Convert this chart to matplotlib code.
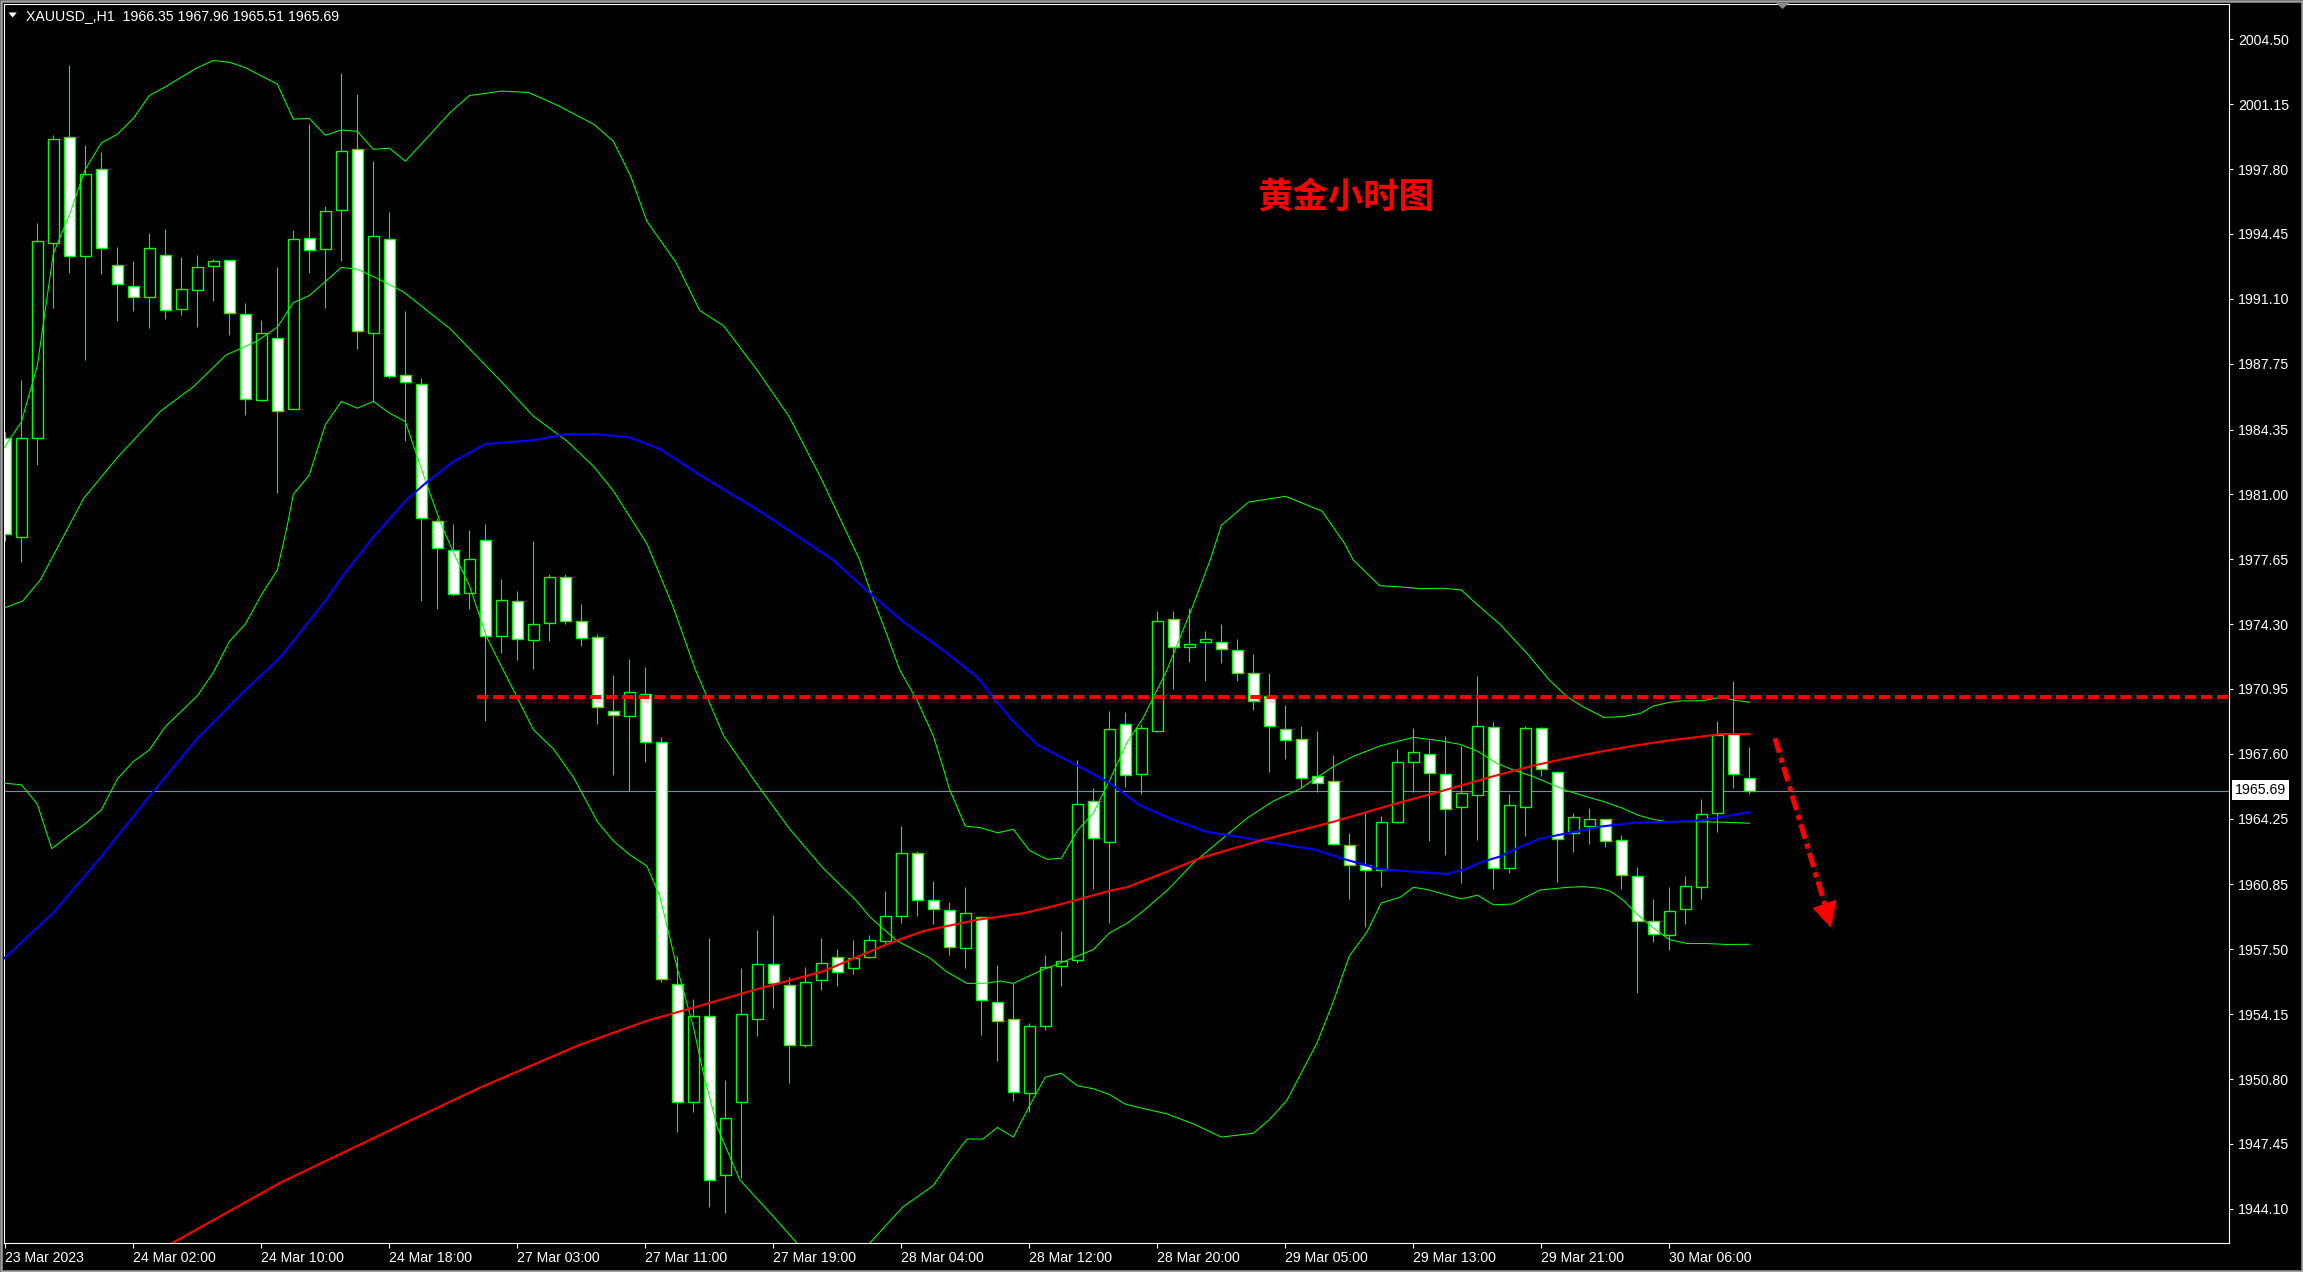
import matplotlib
matplotlib.use("Agg")
import matplotlib.pyplot as plt
import matplotlib.patheffects as pe
from matplotlib.patches import Rectangle, Polygon
import numpy as np

plt.rcParams['font.family'] = ['Liberation Sans', 'DejaVu Sans']

W, H, DPI = 2303, 1272, 100

# ---------------- data (XAUUSD H1) ----------------
opens = [1983.90, 1978.82, 1983.89, 1993.99, 1999.44, 1993.30, 1997.79, 1992.83, 1991.77, 1991.18,
         1993.35, 1990.60, 1991.58, 1992.77, 1993.12, 1990.33, 1985.85, 1989.09, 1985.40, 1994.26,
         1993.66, 1995.67, 1998.86, 1989.36, 1994.20, 1987.14, 1986.68, 1979.60, 1978.11, 1975.93,
         1978.62, 1973.70, 1975.47, 1973.47, 1974.35, 1976.73, 1974.44, 1973.64, 1969.80, 1969.54,
         1970.71, 1968.19, 1955.72, 1949.59, 1954.08, 1945.86, 1949.61, 1953.88, 1956.74, 1955.65,
         1952.58, 1955.90, 1957.11, 1956.56, 1957.11, 1957.95, 1959.20, 1962.45, 1960.06, 1959.54,
         1957.56, 1959.15, 1954.77, 1953.92, 1950.06, 1953.52, 1956.65, 1956.93, 1965.15, 1963.06,
         1969.12, 1966.54, 1968.80, 1974.55, 1973.09, 1973.36, 1973.36, 1972.95, 1971.76, 1970.58,
         1968.86, 1968.34, 1966.44, 1966.17, 1962.90, 1961.88, 1961.60, 1964.09, 1967.20, 1967.61,
         1966.58, 1964.84, 1965.46, 1969.00, 1961.69, 1964.83, 1968.91, 1966.68, 1963.49, 1963.85,
         1964.21, 1963.13, 1961.27, 1958.98, 1958.22, 1959.57, 1960.70, 1964.52, 1968.62, 1966.35]
highs = [1984.20, 1986.92, 1995.02, 1999.56, 2003.17, 1999.06, 1998.66, 1993.77, 1993.04, 1994.49,
         1994.71, 1993.26, 1993.37, 1993.15, 1993.12, 1990.87, 1990.00, 1992.72, 1994.67, 2000.11,
         1995.92, 2002.74, 2001.69, 1998.21, 1995.58, 1990.45, 1987.01, 1979.80, 1979.45, 1979.17,
         1979.46, 1976.65, 1976.02, 1978.60, 1976.88, 1976.90, 1975.33, 1973.78, 1971.66, 1972.49,
         1972.06, 1968.48, 1957.16, 1954.95, 1958.06, 1950.74, 1956.54, 1958.52, 1959.29, 1956.06,
         1956.58, 1958.11, 1957.52, 1957.97, 1958.22, 1960.52, 1963.88, 1962.60, 1961.02, 1959.95,
         1960.72, 1959.20, 1956.70, 1955.74, 1953.70, 1957.20, 1958.45, 1967.27, 1965.84, 1969.80,
         1969.76, 1969.14, 1974.98, 1974.98, 1975.12, 1973.93, 1974.30, 1973.55, 1972.77, 1971.78,
         1970.12, 1969.04, 1968.77, 1967.52, 1963.50, 1964.54, 1964.39, 1967.86, 1968.95, 1968.32,
         1968.50, 1968.00, 1971.60, 1969.25, 1965.51, 1969.04, 1968.98, 1966.70, 1964.53, 1964.78,
         1964.25, 1963.41, 1961.77, 1960.10, 1960.74, 1961.30, 1965.27, 1969.29, 1971.36, 1967.96]
lows = [1978.60, 1977.50, 1982.52, 1990.63, 1992.45, 1987.92, 1992.39, 1989.96, 1990.49, 1989.60,
        1990.05, 1990.29, 1989.64, 1990.98, 1989.24, 1985.11, 1985.80, 1981.09, 1985.40, 1992.45,
        1990.63, 1993.03, 1988.50, 1985.78, 1987.01, 1983.75, 1975.50, 1975.10, 1975.73, 1975.10,
        1969.31, 1972.81, 1972.43, 1972.00, 1973.41, 1974.30, 1973.15, 1969.14, 1966.50, 1965.70,
        1967.19, 1955.81, 1948.07, 1949.08, 1944.20, 1943.90, 1945.67, 1953.01, 1954.47, 1950.61,
        1952.45, 1955.40, 1955.61, 1956.24, 1957.04, 1957.70, 1958.86, 1959.20, 1958.79, 1957.22,
        1956.52, 1953.06, 1951.74, 1949.65, 1949.08, 1953.33, 1955.61, 1956.81, 1960.61, 1958.85,
        1965.90, 1965.51, 1968.75, 1970.97, 1972.36, 1971.38, 1972.31, 1971.35, 1969.87, 1966.67,
        1967.35, 1965.87, 1965.65, 1962.90, 1960.09, 1958.66, 1960.71, 1964.05, 1965.65, 1963.11,
        1962.35, 1960.94, 1963.17, 1960.59, 1961.42, 1963.35, 1966.47, 1960.99, 1962.54, 1962.94,
        1962.80, 1960.63, 1955.26, 1957.86, 1957.47, 1958.81, 1960.10, 1963.58, 1965.85, 1965.51]
closes = [1978.95, 1983.89, 1994.08, 1999.38, 1993.30, 1997.57, 1993.71, 1991.85, 1991.18, 1993.71,
          1990.54, 1991.59, 1992.72, 1993.03, 1990.36, 1985.90, 1989.31, 1985.31, 1994.20, 1993.60,
          1995.65, 1998.75, 1989.42, 1994.33, 1987.10, 1986.79, 1979.77, 1978.22, 1975.84, 1977.65,
          1973.67, 1975.56, 1973.55, 1974.30, 1976.73, 1974.47, 1973.58, 1970.00, 1969.60, 1970.77,
          1968.19, 1955.95, 1949.59, 1954.03, 1945.56, 1948.79, 1954.15, 1956.74, 1955.74, 1952.54,
          1955.83, 1956.77, 1956.31, 1957.04, 1957.97, 1959.20, 1962.45, 1960.04, 1959.59, 1957.61,
          1959.36, 1954.88, 1953.81, 1950.11, 1953.56, 1956.58, 1956.88, 1964.99, 1963.24, 1968.90,
          1966.49, 1968.91, 1974.44, 1973.14, 1973.27, 1973.52, 1973.00, 1971.76, 1970.33, 1969.02,
          1968.31, 1966.35, 1966.10, 1962.92, 1961.85, 1961.60, 1964.09, 1967.20, 1967.68, 1966.60,
          1964.75, 1965.55, 1969.05, 1961.69, 1964.93, 1968.91, 1966.80, 1963.18, 1964.32, 1964.21,
          1963.08, 1961.32, 1958.98, 1958.27, 1959.46, 1960.77, 1964.49, 1968.57, 1966.56, 1965.69]

x_tick_idx = [0, 8, 16, 24, 32, 40, 48, 56, 64, 72, 80, 88, 96, 104]
x_tick_labels = ["23 Mar 2023", "24 Mar 02:00", "24 Mar 10:00", "24 Mar 18:00", "27 Mar 03:00",
                 "27 Mar 11:00", "27 Mar 19:00", "28 Mar 04:00", "28 Mar 12:00", "28 Mar 20:00",
                 "29 Mar 05:00", "29 Mar 13:00", "29 Mar 21:00", "30 Mar 06:00"]
y_tick_vals = [2004.50, 2001.15, 1997.80, 1994.45, 1991.10, 1987.75, 1984.35, 1981.00, 1977.65,
               1974.30, 1970.95, 1967.60, 1964.25, 1960.85, 1957.50, 1954.15, 1950.80, 1947.45, 1944.10]
y_tick_labels = ["2004.50", "2001.15", "1997.80", "1994.45", "1991.10", "1987.75", "1984.35",
                 "1981.00", "1977.65", "1974.30", "1970.95", "1967.60", "1964.25", "1960.85",
                 "1957.50", "1954.15", "1950.80", "1947.45", "1944.10"]

# Bollinger bands (at bar positions)
bb_up_x = [-0.33, 1, 2, 3, 4, 5, 6, 7, 8, 9, 10, 12, 13, 14, 15, 17, 18, 19, 20, 21, 22, 23, 24, 25, 26,
           27.8, 29, 31, 32.7, 34.5, 36.8, 38, 39.1, 40.1, 41.9, 43.4, 44.9, 47, 49, 51, 53.4, 54.15,
           55.1, 55.9, 57, 58, 58.6, 59, 60, 60.9, 62, 63, 64, 65.1, 66, 67, 68, 69, 70.1, 71.1, 72.6,
           74.25, 75.3, 76, 77.7, 80, 82.3, 83.7, 84.25, 85.9, 87.2, 88.4, 89.9, 91, 92, 93.4, 95.1,
           96.5, 97.6, 98.6, 99.9, 101.1, 102.2, 103, 103.9, 104.7, 106.1, 107.2, 108, 109]
bb_up_y = [1983.1, 1984.74, 1987.64, 1993.44, 1995.43, 1997.79, 1999.15, 1999.6, 2000.42, 2001.6,
           2002.05, 2003.04, 2003.41, 2003.32, 2003.04, 2002.19, 2000.38, 2000.42, 1999.55, 1999.82,
           1999.75, 1998.82, 1998.88, 1998.21, 1999.1, 2000.72, 2001.6, 2001.83, 2001.76, 2001.1,
           2000.1, 1999.24, 1997.4, 1995.1, 1993.0, 1990.5, 1989.7, 1987.4, 1985.0, 1981.8, 1977.6,
           1975.8, 1973.75, 1971.93, 1970.34, 1968.52, 1966.93, 1965.79, 1963.86, 1963.79, 1963.52,
           1963.7, 1962.61, 1962.15, 1962.2, 1963.63, 1964.54, 1966.2, 1968.18, 1969.43, 1971.92,
           1975.3, 1977.6, 1979.4, 1980.6, 1980.9, 1980.13, 1978.46, 1977.6, 1976.28, 1976.22,
           1976.13, 1976.15, 1976.06, 1975.3, 1974.3, 1972.79, 1971.41, 1970.55, 1970.03, 1969.48,
           1969.52, 1969.69, 1970.07, 1970.24, 1970.33, 1970.34, 1970.52, 1970.38, 1970.26]
bb_mid_x = [-0.33, 1.1, 2.2, 4.9, 7, 9.7, 11.75, 13.8, 15.7, 17, 18, 19, 21, 22, 23.2, 24.9, 27.8,
            30.9, 33, 35.1, 36.75, 38, 40.1, 41.75, 43.1, 44.9, 47, 49, 51.1, 53.2, 54, 55.7, 57.8,
            58.8, 60.1, 61.1, 62.2, 63, 64, 64.9, 66, 67, 68, 69, 70.1, 71.1, 72.6, 74.25, 76.3,
            77.6, 79.25, 80.9, 83, 84.25, 85.9, 88, 89.7, 90.9, 92, 93.2, 94.25, 95.5, 96.5, 97.6,
            98.8, 99.9, 101.1, 102, 103, 103.9, 105.9, 107.6, 109]
bb_mid_y = [1975.05, 1975.5, 1976.6, 1980.8, 1982.9, 1985.3, 1986.56, 1988.2, 1988.9, 1989.64,
            1990.9, 1991.27, 1992.72, 1992.63, 1992.17, 1991.45, 1989.55, 1986.91, 1985.04, 1983.75,
            1982.46, 1981.18, 1978.45, 1975.16, 1972.0, 1968.52, 1966.0, 1963.74, 1961.7, 1960.0,
            1959.2, 1957.95, 1957.04, 1956.36, 1955.74, 1955.74, 1955.86, 1955.74, 1956.13, 1956.47,
            1956.81, 1957.15, 1957.49, 1958.34, 1958.84, 1959.47, 1960.53, 1961.96, 1963.38, 1964.27,
            1965.16, 1965.78, 1966.94, 1967.47, 1968.0, 1968.45, 1968.27, 1968.09, 1967.74, 1967.11,
            1966.76, 1966.42, 1966.07, 1965.69, 1965.39, 1965.13, 1964.78, 1964.44, 1964.21, 1964.09,
            1964.09, 1964.06, 1964.01]
bb_low_x = [-0.33, 1, 2, 2.9, 4, 5, 6, 7, 8, 9, 10, 12, 13, 14, 15, 16, 17, 17.6, 18, 19, 20, 21, 22,
            23, 24, 25, 26.3, 27.17, 28, 29, 30.1, 31.75, 33, 34.25, 35.5, 37, 38, 39, 40.1, 40.9, 42,
            43, 43.6, 44.5, 45.9, 48, 49.5, 51, 53, 54, 56.1, 58, 59, 60.1, 61.1, 62, 63, 64, 65, 66,
            67, 68, 69, 70, 71, 72.6, 74.2, 76, 78, 79, 80.1, 82, 83, 84, 85.1, 86, 87.2, 88, 88.8,
            91, 92, 93, 94.2, 95.9, 97.6, 98.6, 99.7, 100.3, 101.1, 102, 103, 104, 105.1, 106.3,
            107.6, 109]
bb_low_y = [1966.1, 1966.0, 1965.0, 1962.7, 1963.4, 1964.0, 1964.7, 1966.3, 1967.2, 1967.8, 1969.0,
            1970.6, 1971.8, 1973.4, 1974.3, 1975.8, 1977.1, 1979.3, 1981.0, 1982.0, 1984.6, 1985.8,
            1985.45, 1985.8, 1985.2, 1984.76, 1981.6, 1979.6, 1978.0, 1976.3, 1973.6, 1970.9,
            1968.85, 1967.85, 1966.4, 1964.1, 1963.1, 1962.4, 1961.8, 1960.25, 1956.5, 1953.5,
            1951.2, 1948.3, 1945.6, 1943.7, 1942.3, 1941.6, 1941.8, 1942.3, 1944.2, 1945.3, 1946.5,
            1947.7, 1947.7, 1948.3, 1947.8, 1949.4, 1950.9, 1951.1, 1950.45, 1950.3, 1950.0, 1949.5,
            1949.3, 1949.0, 1948.5, 1947.8, 1948.0, 1948.7, 1949.7, 1952.7, 1954.8, 1957.15, 1958.4,
            1959.9, 1960.2, 1960.7, 1960.6, 1960.1, 1960.3, 1959.8, 1959.84, 1960.56, 1960.7,
            1960.74, 1960.65, 1960.5, 1960.05, 1959.3, 1958.6, 1958.0, 1957.8, 1957.8, 1957.75,
            1957.76]

# Moving averages
ma_blue_x = [-0.33, 3, 6, 9, 12, 15, 17.2, 20, 21, 23, 25.1, 26.3, 28, 30, 33, 35, 37, 39, 41, 43.4,
             47.4, 51.75, 54, 56.1, 58.6, 60.7, 62.8, 64.5, 66.1, 67.4, 69, 70.9, 73, 75.1, 77.2,
             79.7, 81.7, 83.8, 85.9, 88, 90.1, 91.1, 92.2, 93.4, 94.7, 95.9, 97.6, 99.7, 101.8,
             103.9, 105.9, 107.6, 109]
ma_blue_y = [1956.84, 1959.4, 1962.3, 1965.4, 1968.4, 1970.9, 1972.6, 1975.5, 1976.7, 1978.8,
             1980.75, 1981.6, 1982.7, 1983.6, 1983.8, 1984.1, 1984.1, 1983.95, 1983.3, 1982.0,
             1980.0, 1977.6, 1975.9, 1974.43, 1972.95, 1971.59, 1969.43, 1968.06, 1967.38, 1966.81,
             1966.1, 1964.94, 1964.18, 1963.56, 1963.29, 1962.93, 1962.67, 1962.13, 1961.64,
             1961.51, 1961.39, 1961.6, 1961.99, 1962.29, 1962.8, 1963.22, 1963.49, 1963.84,
             1964.04, 1964.08, 1964.15, 1964.39, 1964.58]
ma_red_x = [8, 17.17, 24.9, 29.7, 35.9, 40.1, 43.4, 47, 51.1, 55.3, 57.4, 60.7, 63.6, 65.7, 69,
            70.1, 72.6, 74.7, 78.4, 83, 86.7, 89.7, 93, 95.5, 97.6, 99.7, 101.8, 103.9, 105.9,
            107.2, 109]
ma_red_y = [1941.2, 1945.44, 1948.5, 1950.37, 1952.57, 1953.81, 1954.58, 1955.45, 1956.36, 1957.83,
            1958.45, 1959.02, 1959.36, 1959.77, 1960.52, 1960.71, 1961.51, 1962.22, 1963.11,
            1964.09, 1964.98, 1965.66, 1966.44, 1966.99, 1967.37, 1967.71, 1968.02, 1968.28,
            1968.48, 1968.62, 1968.62]

resistance_level = 1970.52
resistance_start = 29.5
last_price = 1965.69
header = "XAUUSD_,H1  1966.35 1967.96 1965.51 1965.69"
title_text = "黄金小时图"

# ---------------- figure ----------------
fig = plt.figure(figsize=(W / DPI, H / DPI), dpi=DPI, facecolor="black")
L, R, T, B = 4, 2229, 4, 1243
ax = fig.add_axes([L / W, (H - B) / H, (R - L) / W, (B - T) / H])
ax.set_facecolor("black")
ax.set_xlim((L - 5.33) / 16, (R - 5.33) / 16)
ax.set_ylim(2004.5 - (B - 39.4) / 19.36, 2004.5 - (T - 39.4) / 19.36)
for s in ax.spines.values():
    s.set_color("white")
    s.set_linewidth(0.8)

GREEN = "#00ff00"
idx = np.arange(len(opens))
o = np.array(opens)
c = np.array(closes)

# current price line
ax.axhline(last_price, color="#7d8c9b", lw=0.8, zorder=1.5)

# candles
ax.vlines(idx, lows, highs, color=GREEN, lw=0.8, zorder=2)
body_bottom = np.minimum(o, c)
body_h = np.maximum(np.abs(c - o), 0.08)
fills = ["black" if cc >= oo else "white" for oo, cc in zip(o, c)]
ax.bar(idx, body_h, bottom=body_bottom, width=0.66, color=fills, edgecolor=GREEN,
       linewidth=1.0, zorder=2.5)

# Bollinger bands
for xs, ys in [(bb_up_x, bb_up_y), (bb_mid_x, bb_mid_y), (bb_low_x, bb_low_y)]:
    ax.plot(xs, ys, color=GREEN, lw=0.75, zorder=3)

# moving averages
ax.plot(ma_blue_x, ma_blue_y, color="#0000ff", lw=1.5, zorder=4)
ax.plot(ma_red_x, ma_red_y, color="#ff0000", lw=1.5, zorder=4)

# resistance dashed line
ax.plot([resistance_start, ax.get_xlim()[1]], [resistance_level, resistance_level],
        color="#ff0000", lw=2.9, linestyle=(0, (2.8, 1.2)), zorder=5,
        path_effects=[pe.SimpleLineShadow(offset=(0, -2.5), shadow_color="#606060", alpha=0.18),
                      pe.Normal()])

# down arrow (dash-dot)
arr_x = [110.60, 113.71]
arr_y = [1968.40, 1959.84]
ax.plot(arr_x, arr_y, color="#ff0000", lw=3.6, linestyle=(0, (3.0, 1.04, 1.04, 0.9)),
        zorder=6, path_effects=[pe.SimpleLineShadow(offset=(2.5, -2.5), shadow_color="#606060", alpha=0.2),
                                pe.Normal()])
head = Polygon([(112.99, 1959.62), (114.42, 1960.05), (114.08, 1958.67)], closed=True,
               facecolor="#ff0000", edgecolor="#ff0000", lw=0.5, zorder=6,
               path_effects=[pe.SimplePatchShadow(offset=(2.5, -2.5), shadow_rgbFace="#606060", alpha=0.2),
                             pe.Normal()])
ax.add_patch(head)

# title
ax.text(83.8, 1996.31, title_text, color="#ff0000", fontsize=25.5, ha="center", va="center",
        family=["Noto Sans CJK SC", "DejaVu Sans"], weight="bold", zorder=7)

# ticks
ax.yaxis.tick_right()
ax.set_yticks(y_tick_vals)
ax.set_yticklabels(y_tick_labels)
ax.tick_params(axis="y", colors="white", length=3, width=0.8, pad=3.6, labelsize=10.2,
               direction="out")
ax.set_xticks(x_tick_idx)
ax.set_xticklabels(x_tick_labels, ha="left")
ax.tick_params(axis="x", colors="white", length=3.5, width=0.8, pad=2, labelsize=10.2,
               direction="out")

# current price label on the axis
fig.text(2235 / W, 1 - 790 / H, f"{last_price:.2f}", color="black", fontsize=10.2,
         ha="left", va="center",
         bbox=dict(boxstyle="square,pad=0.2", facecolor="white", edgecolor="none"))

# header
fig.text(26 / W, 1 - 16.5 / H, header, color="white", fontsize=10.2, ha="left", va="center")
fig.add_artist(Polygon([(8.5 / W, 1 - 12.5 / H), (16.8 / W, 1 - 12.5 / H), (12.65 / W, 1 - 17.5 / H)],
                       closed=True, transform=fig.transFigure, facecolor="white", edgecolor="none"))
# chart shift marker
fig.add_artist(Polygon([(1776 / W, 1 - 3 / H), (1789 / W, 1 - 3 / H), (1782.5 / W, 1 - 9 / H)],
                       closed=True, transform=fig.transFigure, facecolor="#8a8a8a", edgecolor="none"))
# window frame
fig.add_artist(Rectangle((1.2 / W, 1.2 / H), 1 - 2.4 / W, 1 - 2.4 / H, transform=fig.transFigure,
                         fill=False, edgecolor="#a0a0a0", lw=1.8))

fig.savefig("out.png", dpi=DPI, facecolor="black")
